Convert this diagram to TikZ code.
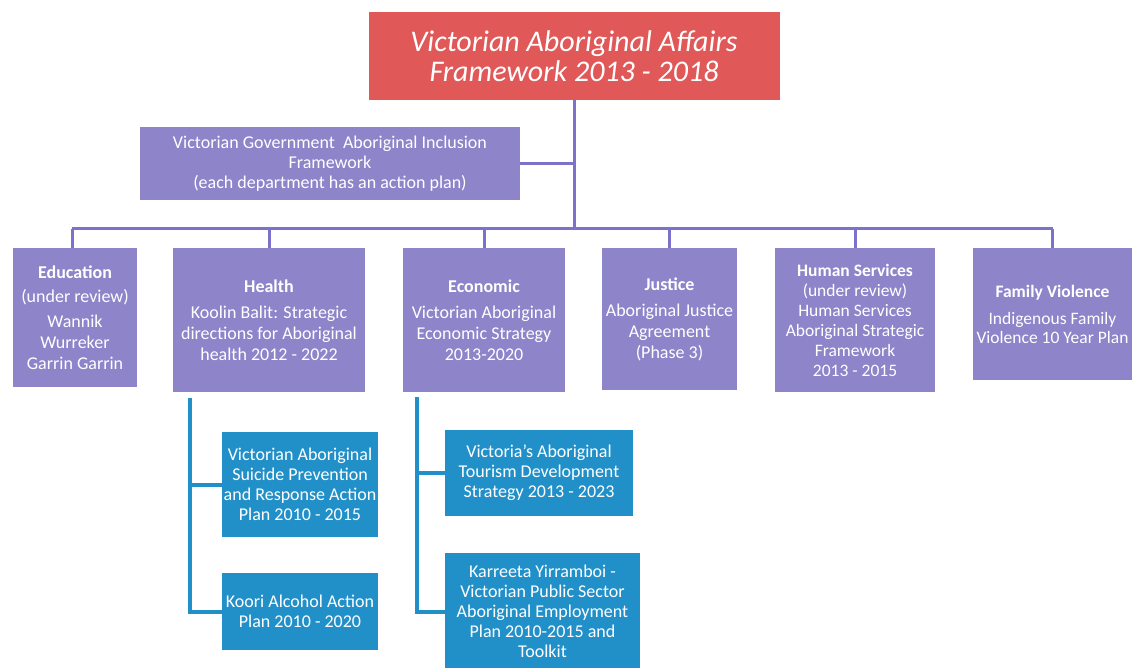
\documentclass[tikz,border=0pt]{standalone}
\usepackage{fontspec}
\setmainfont{Carlito}
\usetikzlibrary{positioning,calc}
\definecolor{vaared}{HTML}{E05858}
\definecolor{vaapurple}{HTML}{8D84C9}
\definecolor{vaaline}{HTML}{7C72CC}
\definecolor{vaablue}{HTML}{2290C8}

\begin{document}
\begin{tikzpicture}[x=1pt,y=-1pt,
      box/.style={fill=vaapurple,text=white,inner sep=0pt,align=center,
        font=\fontsize{18}{21}\selectfont},
      subbox/.style={fill=vaablue,text=white,inner sep=0pt,align=center,
        font=\fontsize{18}{20}\selectfont},
      link/.style={draw=vaaline,line width=3pt},
      sublink/.style={draw=vaablue,line width=4pt}]
    \useasboundingbox (0,0) rectangle (1135,668);
    % top of the tree
    \node[fill=vaared,text=white,minimum width=411pt,minimum height=88pt,align=center,
      font=\fontsize{30}{30}\selectfont\itshape] (vaaf) at (574,56)
      {Victorian Aboriginal Affairs\\Framework 2013 - 2018};
    \node[box,minimum width=380pt,minimum height=73pt,font=\fontsize{18}{20}\selectfont]
      (incl) at (330,163.5)
      {Victorian Government\ \ Aboriginal Inclusion\\Framework\\(each department has an action plan)};
    % departments
    \node[box,minimum width=124pt,minimum height=139pt] (edu) at (75,317.5)
      {\textbf{Education}\\[3pt](under review)\\[4pt]Wannik\\Wurreker\\Garrin Garrin};
    \node[box,minimum width=192pt,minimum height=144pt] (health) at (269,320)
      {\textbf{Health}\\[5pt]Koolin Balit: Strategic\\directions for Aboriginal\\health 2012 - 2022};
    \node[box,minimum width=162pt,minimum height=144pt] (econ) at (484,320)
      {\textbf{Economic}\\[5pt]Victorian Aboriginal\\Economic Strategy\\2013-2020};
    \node[box,minimum width=135pt,minimum height=142pt] (justice) at (669.5,319)
      {\textbf{Justice}\\[5pt]Aboriginal Justice\\Agreement\\(Phase 3)};
    \node[box,minimum width=160pt,minimum height=144pt,font=\fontsize{17.5}{20}\selectfont]
      (humsvc) at (855,320)
      {\textbf{Human Services}\\(under review)\\Human Services\\Aboriginal Strategic\\Framework\\2013 - 2015};
    \node[box,minimum width=159pt,minimum height=132pt,font=\fontsize{17.5}{19}\selectfont]
      (famviol) at (1052.5,314)
      {\textbf{Family Violence}\\[8pt]Indigenous Family\\Violence 10 Year Plan};
    % plans under health and economic
    \node[subbox,minimum width=156pt,minimum height=105pt] (suicide) at (300,484.5)
      {Victorian Aboriginal\\Suicide Prevention\\and Response Action\\Plan 2010 - 2015};
    \node[subbox,minimum width=156pt,minimum height=77pt] (koori) at (300,611.5)
      {Koori Alcohol Action\\Plan 2010 - 2020};
    \node[subbox,minimum width=188pt,minimum height=86pt] (tourism) at (539,473)
      {Victoria's Aboriginal\\Tourism Development\\Strategy 2013 - 2023};
    \node[subbox,minimum width=195pt,minimum height=117pt] (karreeta) at (542.5,611.5)
      {Karreeta Yirramboi -\\Victorian Public Sector\\Aboriginal Employment\\Plan 2010-2015 and\\Toolkit};
    % connectors
    \coordinate (busL) at (72,229);
    \coordinate (busR) at (1053,229);
    \coordinate (hlth) at (190,398);
    \coordinate (ecnm) at (417,397);
    \draw[link] (vaaf.south) -- (vaaf.south |- busL);
    \draw[link] (incl.east) -- (incl.east -| vaaf.south);
    \draw[link] (busL) -- (busR);
    \draw[link] (edu.north -| busL) -- (busL);
    \draw[link] (health.north) -- (health.north |- busL);
    \draw[link] (econ.north) -- (econ.north |- busL);
    \draw[link] (justice.north) -- (justice.north |- busL);
    \draw[link] (humsvc.north) -- (humsvc.north |- busL);
    \draw[link] (famviol.north) -- (famviol.north |- busL);
    \draw[sublink] (hlth) |- (suicide.west);
    \draw[sublink] (hlth) |- (koori.west);
    \draw[sublink] (ecnm) |- (tourism.west);
    \draw[sublink] (ecnm) |- (karreeta.west);
  \end{tikzpicture}
\end{document}
